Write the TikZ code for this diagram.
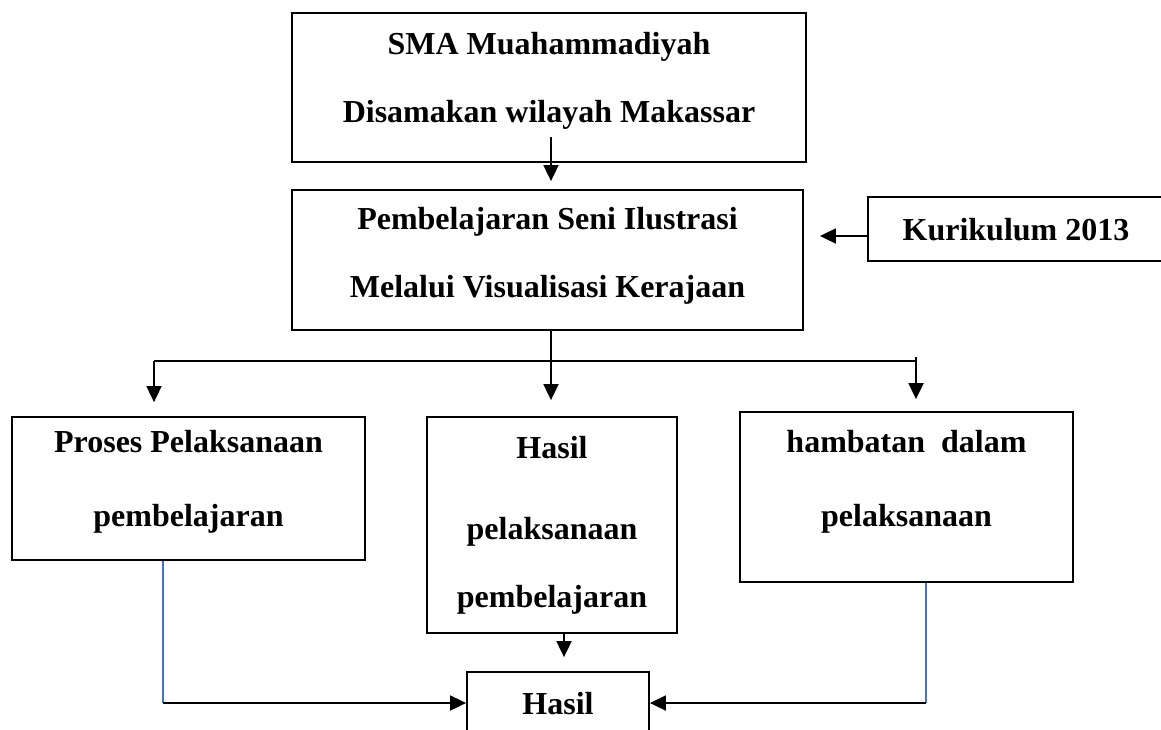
\documentclass[tikz,border=0pt]{standalone}
\usepackage{fontspec}
\setmainfont{Liberation Serif}
\usetikzlibrary{arrows.meta,calc}
\definecolor{lineblue}{RGB}{68,114,196}
\tikzset{
  box/.style={draw, line width=1.8pt, align=center, inner sep=0pt,
    font=\fontsize{32}{68}\selectfont\bfseries, text depth=#1},
  box/.default=7pt,
  arr/.style={line width=1.8pt, -{Triangle[length=16pt,width=15pt]}},
  blueline/.style={line width=1.6pt, lineblue}
}

\begin{document}
\begin{tikzpicture}[x=1pt,y=-1pt]
            \useasboundingbox (0,0) rectangle (1161,729);
            % boxes
            \node[box=20pt, minimum width=514pt, minimum height=149pt] (sma) at (549,87.5) {SMA Muahammadiyah\\Disamakan wilayah Makassar};
            \node[box=15pt, minimum width=511pt, minimum height=140pt] (pemb) at (547.5,260) {Pembelajaran Seni Ilustrasi\\Melalui Visualisasi Kerajaan};
            \node[box=0pt, minimum width=296pt, minimum height=64pt] (kur) at (1016,229) {Kurikulum 2013};
            \node[box=20pt, minimum width=353pt, minimum height=143pt] (procs) at (188.5,488.5) {Proses Pelaksanaan\\[6pt]pembelajaran};
            \node[box=7pt, minimum width=250pt, minimum height=216pt] (hsl) at (552,525) {Hasil\\[13pt]pelaksanaan\\pembelajaran};
            \node[box=37pt, minimum width=333pt, minimum height=170pt] (hmb) at (906.5,497) {hambatan~ dalam\\[6pt]pelaksanaan};
            \node[box=0pt, minimum width=182pt, minimum height=62pt] (hasil) at (558,703) {Hasil};
            % arrows
            \coordinate (a1) at ($(sma.south)+(2,-26)$);
            \draw[arr, shorten >=8pt] (a1) -- (a1 |- pemb.north);
            \coordinate (k1) at ($(kur.west)+(2,7)$);
            \draw[arr, shorten >=16pt] (k1) -- (k1 -| pemb.east);
            \coordinate (bl) at (154,361);
            \coordinate (br) at (916,361);
            \coordinate (bm) at ($(pemb.south)+(3.5,0)$);
            \draw[line width=1.8pt] (bl) -- (br);
            \draw[arr, shorten >=14pt] (bl) -- (bl |- procs.north);
            \draw[arr, shorten >=16pt] (bm) -- (bm |- hsl.north);
            \draw[arr, shorten >=12pt] ($(br)+(0,-4)$) -- (br |- hmb.north);
            \coordinate (m1) at ($(hsl.south)+(12,0)$);
            \draw[arr, shorten >=14pt] (m1) -- (m1 |- hasil.north);
            \coordinate (pl) at ($(procs.south)+(-25.5,0)$);
            \draw[blueline] (pl) -- (pl |- hasil.west);
            \draw[arr] (pl |- hasil.west) -- (hasil.west);
            \coordinate (hr) at ($(hmb.south)+(19.5,0)$);
            \draw[blueline] (hr) -- (hr |- hasil.west);
            \draw[arr] (hr |- hasil.west) -- (hasil.east);
\end{tikzpicture}
\end{document}
